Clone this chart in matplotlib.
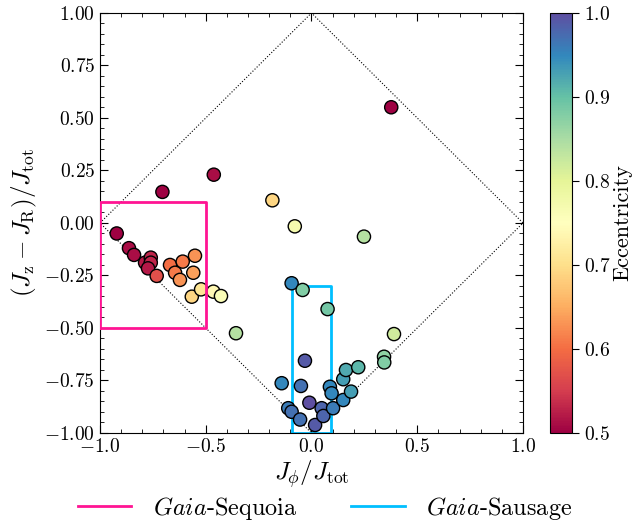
import numpy as np
import matplotlib
matplotlib.use("Agg")
import matplotlib.pyplot as plt
from matplotlib.ticker import AutoMinorLocator, MultipleLocator

plt.rcParams["font.family"] = ["cmr10", "DejaVu Serif"]
plt.rcParams["mathtext.fontset"] = "cm"
plt.rcParams["axes.formatter.use_mathtext"] = True

# stars: J_phi/J_tot, (J_z - J_R)/J_tot, eccentricity
jphi = [0.377, -0.705, -0.462, -0.185, -0.079, 0.248, 0.390, 0.343, 0.344, -0.357,
        -0.921, -0.863, -0.839, -0.787, -0.760, -0.760, -0.773, -0.732,
        -0.669, -0.609, -0.551, -0.645, -0.622, -0.559, -0.566, -0.522, -0.464, -0.428,
        -0.094, -0.042, 0.076, -0.031, -0.141, -0.050, -0.010, -0.110, -0.094, -0.054,
        0.017, 0.048, 0.056, 0.087, 0.095, 0.102, 0.150, 0.187, 0.150, 0.163, 0.221]
jzr = [0.551, 0.148, 0.230, 0.108, -0.016, -0.065, -0.529, -0.637, -0.664, -0.525,
       -0.050, -0.120, -0.152, -0.189, -0.165, -0.189, -0.216, -0.252,
       -0.200, -0.184, -0.156, -0.237, -0.271, -0.237, -0.351, -0.316, -0.327, -0.348,
       -0.287, -0.319, -0.410, -0.656, -0.763, -0.776, -0.856, -0.882, -0.899, -0.936,
       -0.962, -0.882, -0.919, -0.780, -0.811, -0.882, -0.843, -0.803, -0.744, -0.700, -0.687]
ecc = [0.50, 0.50, 0.51, 0.69, 0.77, 0.84, 0.82, 0.87, 0.88, 0.84,
       0.50, 0.51, 0.51, 0.52, 0.53, 0.53, 0.52, 0.57,
       0.60, 0.61, 0.63, 0.61, 0.63, 0.64, 0.69, 0.71, 0.74, 0.76,
       0.95, 0.88, 0.89, 0.99, 0.95, 0.97, 1.00, 0.96, 0.97, 0.97,
       0.99, 0.98, 0.98, 0.95, 0.95, 0.96, 0.95, 0.93, 0.93, 0.92, 0.91]

# selection boxes
seq_box = (-1.0, -0.5, -0.5, 0.1)      # xmin, xmax, ymin, ymax
sau_box = (-0.09, 0.09, -1.0, -0.3)


def box_xy(b):
    x0, x1, y0, y1 = b
    return [x0, x1, x1, x0, x0], [y0, y0, y1, y1, y0]


fig = plt.figure(figsize=(6.35, 5.27), dpi=100)
ax = fig.add_axes([0.1575, 0.1784, 0.6661, 0.7970])
cax = fig.add_axes([0.866, 0.1784, 0.0346, 0.7970])

ax.plot([-1, 0, 1, 0, -1], [0, 1, 0, -1, 0], ls=":", c="k", lw=0.8, zorder=1)

bx, by = box_xy(sau_box)
ax.plot(bx, by, c="deepskyblue", lw=2.0, zorder=2, label=r"$\mathit{Gaia}$-Sausage")

sc = ax.scatter(jphi, jzr, c=ecc, cmap="Spectral", vmin=0.5, vmax=1.0,
                s=90, edgecolors="k", linewidths=1.0, zorder=3, clip_on=False)

bx, by = box_xy(seq_box)
ax.plot(bx, by, c="#ff1493", lw=2.0, zorder=4, label=r"$\mathit{Gaia}$-Sequoia")

ax.set_xlim(-1, 1)
ax.set_ylim(-1, 1)
ax.xaxis.set_major_locator(MultipleLocator(0.5))
ax.yaxis.set_major_locator(MultipleLocator(0.25))
ax.xaxis.set_minor_locator(AutoMinorLocator(5))
ax.yaxis.set_minor_locator(AutoMinorLocator(5))
ax.tick_params(which="both", direction="in", top=True, right=True, labelsize=14)
ax.tick_params(which="major", length=6)
ax.tick_params(which="minor", length=3)
ax.set_xlabel(r"$J_\phi/J_\mathrm{tot}$", fontsize=18, labelpad=2)
ax.set_ylabel(r"$(J_\mathrm{z}-J_\mathrm{R})/J_\mathrm{tot}$", fontsize=18, labelpad=4)

cb = fig.colorbar(sc, cax=cax)
cb.set_ticks([0.5, 0.6, 0.7, 0.8, 0.9, 1.0])
cb.ax.tick_params(labelsize=14, length=5)
cb.set_label("Eccentricity", fontsize=16, labelpad=2)

h, l = ax.get_legend_handles_labels()
fig.legend(h[::-1], l[::-1], loc="center", bbox_to_anchor=(0.512, 0.036), ncol=2,
           frameon=False, fontsize=17.5, handlelength=2.2, handletextpad=0.9,
           columnspacing=2.2)

fig.savefig("out.png", dpi=100)
